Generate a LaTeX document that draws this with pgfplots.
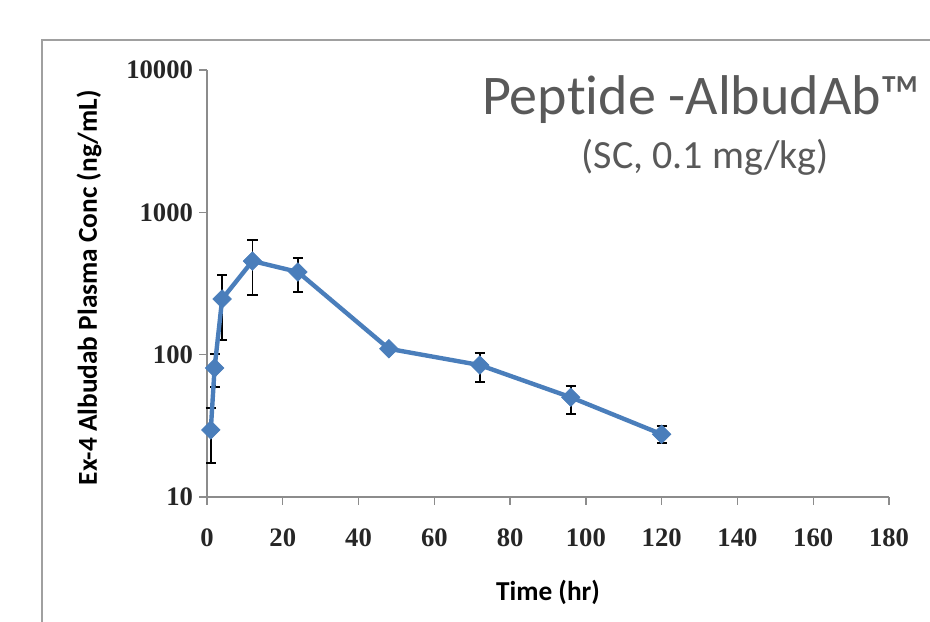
\documentclass[border=0pt]{standalone}
\usepackage{pgfplots}
\usepackage{pgfplotstable}
\pgfplotsset{compat=1.18}
\usepackage{fontspec}
\setmainfont{Carlito}[Ligatures=NoCommon]
\newfontfamily\tickfont{Liberation Serif}
\definecolor{exblue}{HTML}{4A7EBB}
\definecolor{axgray}{HTML}{8C8C8C}
\definecolor{framegray}{HTML}{A0A0A0}
\definecolor{titlegray}{HTML}{595959}
\pgfplotstableread{
t y ep em
1 29.6 12.6 12.3
2 80.6 20.4 21.3
4 246 117 119
12 455 185 193
24 381 97 105
48 110 6 6
72 84.5 18.5 19.9
96 50.2 10.4 11.9
120 27.6 4.1 3.8
}\datatable
\begin{document}
\begin{tikzpicture}
\path[use as bounding box] (0pt,0pt) rectangle (697.5pt,-465.75pt);
\draw[framegray, line width=1.1pt] (31.5pt,-470pt) -- (31.5pt,-30pt) -- (700pt,-30pt);
\begin{axis}[
  at={(155.25pt,-372.75pt)}, anchor=south west,
  scale only axis, width=511.5pt, height=320.25pt,
  xmin=0, xmax=180, ymin=10, ymax=10000, ymode=log,
  axis x line=bottom, axis y line=left,
  axis line style={-, axgray, line width=1.2pt},
  tick align=outside, major tick length=6pt,
  tick style={axgray, line width=1pt},
  xtick={0,20,40,60,80,100,120,140,160,180},
  xticklabels={0,20,40,60,80,100,120,140,160,180},
  ytick={10,100,1000,10000},
  yticklabels={10,100,1000,10000},
  yminorticks=false, xminorticks=false,
  ticklabel style={font=\tickfont\bfseries\fontsize{20}{22}\selectfont, text=black!85},
  xticklabel style={yshift=-14.5pt},
  yticklabel style={xshift=-1pt},
  xlabel={Time (hr)}, ylabel={Ex-4 Albudab Plasma Conc (ng/mL)},
  label style={font=\bfseries\fontsize{20.5}{23}\selectfont, text=black},
  xlabel style={at={(rel axis cs:0.5,-0.2225)}, anchor=center},
  ylabel style={at={(rel axis cs:-0.173,0.49)}, anchor=center},
  clip=false,
]
\addplot[draw=none, mark=none,
  error bars/.cd, y dir=both, y explicit,
  error bar style={black, line width=1.4pt, solid},
  error mark options={black, line width=1.4pt, mark size=3.8pt, rotate=90}]
  table[x=t, y=y, y error plus=ep, y error minus=em] {\datatable};
\addplot[exblue, line width=3.3pt, mark=square*, mark size=4.9pt,
  mark options={rotate=45, solid, fill=exblue, line width=0.5pt}]
  table[x=t, y=y] {\datatable};
\end{axis}
\node[font=\fontsize{42}{44}\selectfont, text=titlegray] at (526pt,-75pt) {Peptide -AlbudAb™};
\node[font=\fontsize{30}{32}\selectfont, text=titlegray] at (529pt,-117.75pt) {(SC, 0.1 mg/kg)};
\end{tikzpicture}
\end{document}
